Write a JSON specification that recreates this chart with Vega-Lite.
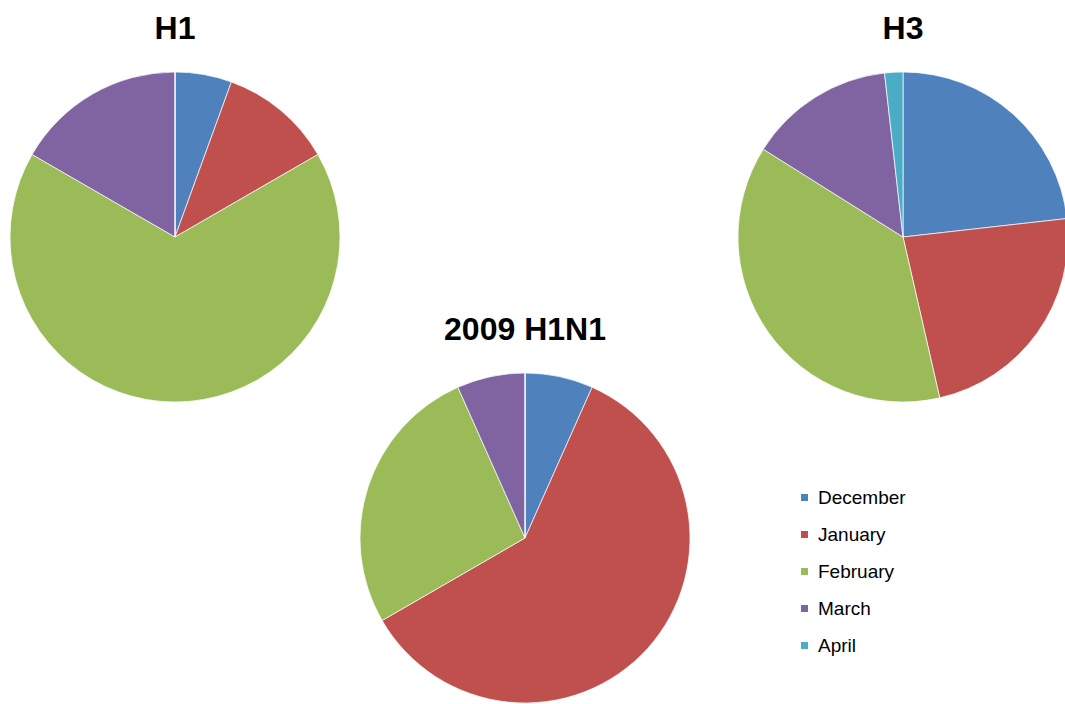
{
  "$schema": "https://vega.github.io/schema/vega-lite/v6.json",
  "background": "white",
  "padding": {"left": 8, "top": 12, "right": 0, "bottom": 0},
  "datasets": {
    "flu": [
      {"strain": "H1", "month": "December", "seq": 1, "count": 1},
      {"strain": "H1", "month": "January", "seq": 2, "count": 2},
      {"strain": "H1", "month": "February", "seq": 3, "count": 12},
      {"strain": "H1", "month": "March", "seq": 4, "count": 3},
      {"strain": "H1", "month": "April", "seq": 5, "count": 0},
      {"strain": "H3", "month": "December", "seq": 1, "count": 13},
      {"strain": "H3", "month": "January", "seq": 2, "count": 13},
      {"strain": "H3", "month": "February", "seq": 3, "count": 21},
      {"strain": "H3", "month": "March", "seq": 4, "count": 8},
      {"strain": "H3", "month": "April", "seq": 5, "count": 1},
      {"strain": "2009 H1N1", "month": "December", "seq": 1, "count": 1},
      {"strain": "2009 H1N1", "month": "January", "seq": 2, "count": 9},
      {"strain": "2009 H1N1", "month": "February", "seq": 3, "count": 4},
      {"strain": "2009 H1N1", "month": "March", "seq": 4, "count": 1},
      {"strain": "2009 H1N1", "month": "April", "seq": 5, "count": 0}
    ]
  },
  "config": {
    "view": {"stroke": null},
    "title": {"font": "Liberation Sans", "fontSize": 32, "fontWeight": "bold", "color": "black", "anchor": "middle", "offset": 25},
    "legend": {"padding": 0}
  },
  "spacing": 16,
  "resolve": {"scale": {"color": "shared"}},
  "hconcat": [
    {
      "title": "H1",
      "width": 330,
      "height": 330,
      "data": {"name": "flu"},
      "transform": [{"filter": "datum.strain === 'H1'"}],
      "mark": {"type": "arc", "outerRadius": 165, "stroke": "white", "strokeWidth": 0.7},
      "encoding": {
        "theta": {"field": "count", "type": "quantitative", "stack": true},
        "order": {"field": "seq", "type": "quantitative"},
        "color": {
          "field": "month", "type": "nominal",
          "scale": {"domain": ["December", "January", "February", "March", "April"], "range": ["#4F81BD", "#C0504D", "#9BBB59", "#8064A2", "#4BACC6"]},
          "legend": {"title": null, "orient": "none", "legendX": 785, "legendY": 416, "symbolType": "square", "symbolSize": 49, "symbolStrokeWidth": 0, "labelFont": "Liberation Sans", "labelFontSize": 19, "labelColor": "black", "rowPadding": 17, "labelOffset": 4}
        }
      }
    },
    {
      "spacing": 0,
      "vconcat": [
        {
          "width": 330,
          "height": 241,
          "data": {"values": []},
          "mark": "point"
        },
        {
          "title": "2009 H1N1",
          "width": 330,
          "height": 330,
          "data": {"name": "flu"},
          "transform": [{"filter": "datum.strain === '2009 H1N1'"}],
          "mark": {"type": "arc", "outerRadius": 165, "stroke": "white", "strokeWidth": 0.7},
          "encoding": {
            "theta": {"field": "count", "type": "quantitative", "stack": true},
            "order": {"field": "seq", "type": "quantitative"},
            "color": {
              "field": "month", "type": "nominal",
              "scale": {"domain": ["December", "January", "February", "March", "April"], "range": ["#4F81BD", "#C0504D", "#9BBB59", "#8064A2", "#4BACC6"]},
              "legend": {"title": null, "orient": "none", "legendX": 785, "legendY": 416, "symbolType": "square", "symbolSize": 49, "symbolStrokeWidth": 0, "labelFont": "Liberation Sans", "labelFontSize": 19, "labelColor": "black", "rowPadding": 17, "labelOffset": 4}
            }
          }
        }
      ]
    },
    {
      "title": "H3",
      "width": 390,
      "height": 330,
      "data": {"name": "flu"},
      "transform": [{"filter": "datum.strain === 'H3'"}],
      "mark": {"type": "arc", "outerRadius": 165, "stroke": "white", "strokeWidth": 0.7},
      "encoding": {
        "theta": {"field": "count", "type": "quantitative", "stack": true},
        "order": {"field": "seq", "type": "quantitative"},
        "color": {
          "field": "month", "type": "nominal",
          "scale": {"domain": ["December", "January", "February", "March", "April"], "range": ["#4F81BD", "#C0504D", "#9BBB59", "#8064A2", "#4BACC6"]},
          "legend": {"title": null, "orient": "none", "legendX": 785, "legendY": 416, "symbolType": "square", "symbolSize": 49, "symbolStrokeWidth": 0, "labelFont": "Liberation Sans", "labelFontSize": 19, "labelColor": "black", "rowPadding": 17, "labelOffset": 4}
        }
      }
    }
  ]
}
